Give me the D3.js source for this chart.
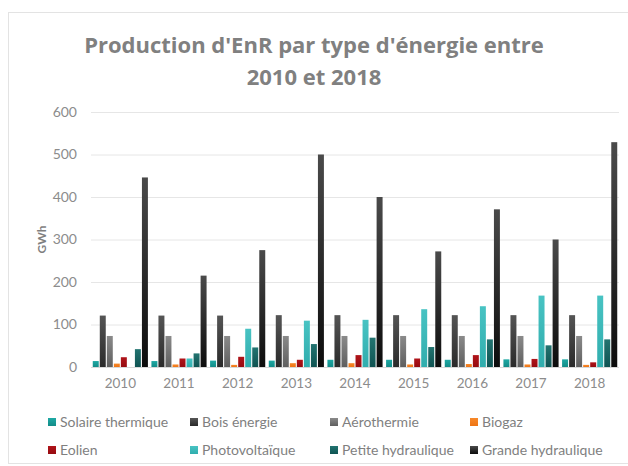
<!DOCTYPE html>
<html>
<head>
<meta charset="utf-8">
<script src="https://cdn.jsdelivr.net/npm/d3@7"></script>
<style>
  body { margin: 0; background: #fff; }
  svg { display: block; font-family: Lato, "Open Sans", sans-serif; }
</style>
</head>
<body>
<div id="chart"></div>
<script>
// Données
const years = ['2010', '2011', '2012', '2013', '2014', '2015', '2016', '2017', '2018'];
const series = ['Solaire thermique', 'Bois énergie', 'Aérothermie', 'Biogaz',
                'Eolien', 'Photovoltaïque', 'Petite hydraulique', 'Grande hydraulique'];
const solaireThermique  = [14, 14, 15, 15, 17, 17, 17, 18, 18];
const boisEnergie       = [121, 121, 121, 122, 122, 122, 122, 122, 122];
const aerothermie       = [73, 73, 73, 73, 73, 73, 73, 73, 73];
const biogaz            = [8, 6, 5, 9, 9, 6, 7, 6, 5];
const eolien            = [23, 20, 24, 17, 28, 20, 28, 19, 11];
const photovoltaique    = [0, 20, 90, 109, 111, 136, 143, 168, 168];
const petiteHydraulique = [42, 32, 46, 54, 69, 47, 65, 51, 65];
const grandeHydraulique = [446, 215, 275, 500, 400, 272, 371, 300, 529];
const yTicks = [0, 100, 200, 300, 400, 500, 600];

const values = [solaireThermique, boisEnergie, aerothermie, biogaz,
                eolien, photovoltaique, petiteHydraulique, grandeHydraulique];
// couleurs [haut, bas] pour le dégradé
const colors = [
  ['#1ea9a4', '#138c88'],
  ['#555555', '#2a2a2a'],
  ['#8a8a8a', '#5f5f5f'],
  ['#f7892a', '#ee7414'],
  ['#b0141a', '#960b10'],
  ['#48c3c3', '#30adad'],
  ['#237471', '#0f5352'],
  ['#4a4a4a', '#0c0c0c']
];

const width = 628, height = 466;
const margin = { top: 112, right: 9, bottom: 99, left: 91 };

const svg = d3.select('#chart').append('svg')
  .attr('width', width)
  .attr('height', height);

// Dégradés
const defs = svg.append('defs');
colors.forEach((c, i) => {
  const grad = defs.append('linearGradient')
    .attr('id', 'grad' + i)
    .attr('x1', 0).attr('y1', 0).attr('x2', 0).attr('y2', 1);
  grad.append('stop').attr('offset', '0%').attr('stop-color', c[0]);
  grad.append('stop').attr('offset', '100%').attr('stop-color', c[1]);
});

// Cadre du graphique
svg.append('rect')
  .attr('x', 8.5).attr('y', 12.5)
  .attr('width', width + 10).attr('height', height - 15)
  .attr('fill', 'none')
  .attr('stroke', '#e3e3e3');

// Titre
const titleLines = ["Production d'EnR par type d'énergie entre", '2010 et 2018'];
svg.append('g')
  .selectAll('text')
  .data(titleLines)
  .enter()
  .append('text')
  .attr('x', 314)
  .attr('y', (d, i) => 53 + i * 32)
  .attr('text-anchor', 'middle')
  .attr('fill', '#808080')
  .attr('font-size', '22px')
  .attr('font-weight', 'bold')
  .attr('font-family', '"Open Sans", sans-serif')
  .text(d => d);

const x0 = d3.scaleBand()
  .domain(years)
  .range([margin.left, width - margin.right])
  .paddingInner(0)
  .paddingOuter(0);

const x1 = d3.scaleBand()
  .domain(series)
  .range([0, x0.bandwidth()])
  .paddingInner(0.15)
  .paddingOuter(0.25);

const y = d3.scaleLinear()
  .domain([0, 600])
  .range([height - margin.bottom, margin.top]);

// Grille
svg.append('g')
  .selectAll('line')
  .data(yTicks.filter(d => d > 0))
  .enter()
  .append('line')
  .attr('x1', margin.left)
  .attr('x2', width - margin.right)
  .attr('y1', d => y(d) + 0.5)
  .attr('y2', d => y(d) + 0.5)
  .attr('stroke', '#e6e6e6')
  .attr('stroke-width', 1);

// Axe Y
const yAxis = svg.append('g')
  .attr('transform', `translate(${margin.left - 14},0)`)
  .call(d3.axisLeft(y).tickValues(yTicks).tickSize(0).tickPadding(0));
yAxis.select('.domain').remove();
yAxis.selectAll('text')
  .attr('fill', '#8c8c8c')
  .attr('font-size', '14px')
  .attr('font-family', 'Lato, sans-serif');

// Titre axe Y
svg.append('text')
  .attr('transform', `translate(46,${y(300)}) rotate(-90)`)
  .attr('text-anchor', 'middle')
  .attr('fill', '#7f7f7f')
  .attr('font-size', '12px')
  .attr('font-weight', 'bold')
  .text('GWh');

// Barres
const groups = svg.append('g')
  .selectAll('.year')
  .data(years)
  .enter()
  .append('g')
  .attr('class', 'year')
  .attr('transform', d => `translate(${x0(d)},0)`);

groups.selectAll('rect')
  .data((d, i) => series.map((s, j) => ({ s, j, v: values[j][i] })))
  .enter()
  .append('rect')
  .attr('x', d => x1(d.s))
  .attr('width', x1.bandwidth())
  .attr('y', d => y(d.v))
  .attr('height', d => y(0) - y(d.v))
  .attr('fill', d => `url(#grad${d.j})`);

// Axe X (ligne de base)
svg.append('line')
  .attr('x1', margin.left)
  .attr('x2', width - margin.right)
  .attr('y1', y(0) + 0.5)
  .attr('y2', y(0) + 0.5)
  .attr('stroke', '#d9d9d9');

const xAxis = svg.append('g')
  .attr('transform', `translate(0,${y(0)})`)
  .call(d3.axisBottom(x0).tickSize(0).tickPadding(11));
xAxis.select('.domain').remove();
xAxis.selectAll('text')
  .attr('fill', '#8c8c8c')
  .attr('font-size', '13.5px')
  .attr('font-family', 'Lato, sans-serif');

// Légende
const legendX = [48, 190, 330, 470];
const legendY = [422, 450];
const legend = svg.append('g')
  .selectAll('.legend')
  .data(series)
  .enter()
  .append('g')
  .attr('class', 'legend')
  .attr('transform', (d, i) => `translate(${legendX[i % 4]},${legendY[Math.floor(i / 4)]})`);

legend.append('rect')
  .attr('x', 0).attr('y', -4)
  .attr('width', 8).attr('height', 8)
  .attr('fill', (d, i) => `url(#grad${i})`);

legend.append('text')
  .attr('x', 12)
  .attr('y', 0)
  .attr('dy', '0.35em')
  .attr('fill', '#7f7f7f')
  .attr('font-size', '14px')
  .text(d => d);
</script>
</body>
</html>
